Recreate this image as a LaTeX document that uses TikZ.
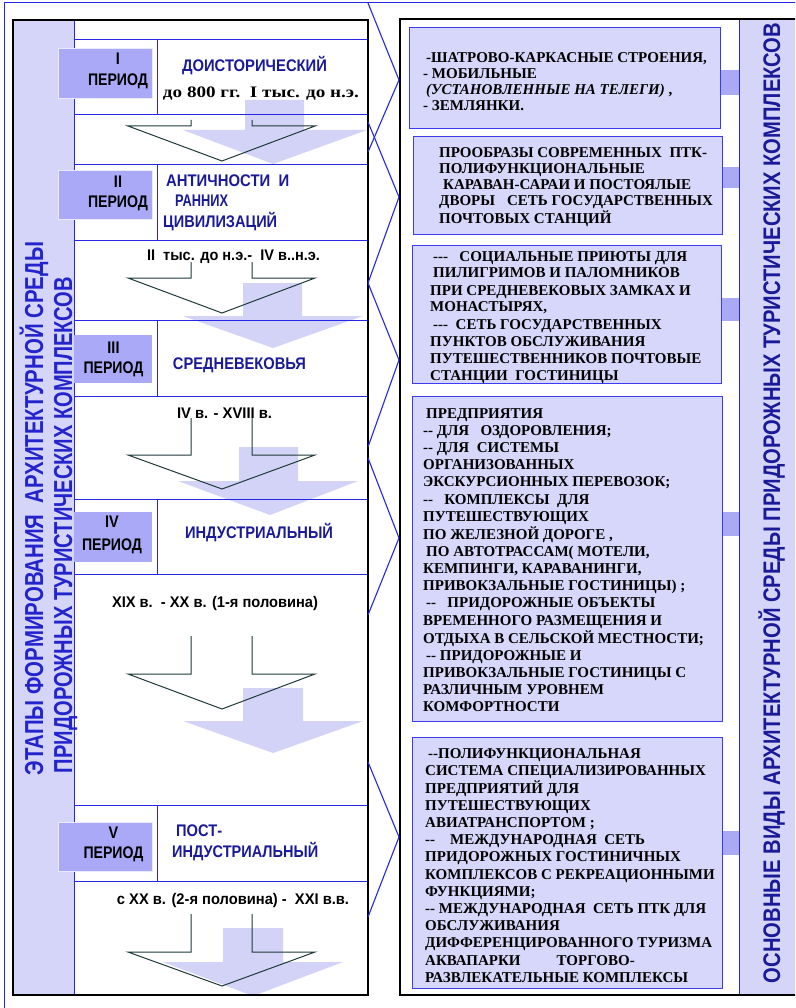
\documentclass[tikz,border=0pt]{standalone}
\usepackage{fontspec}
\setmainfont{Liberation Serif}
\setsansfont{Liberation Sans}
\usepackage{graphicx}
\newcommand{\fitw}[2]{\resizebox{#1pt}{\height}{#2}}
\newcommand{\dd}{\mbox{-}\mbox{-}}
\newcommand{\ddd}{\mbox{-}\mbox{-}\mbox{-}}
\definecolor{strip}{HTML}{D5D5FA}
\definecolor{pbox}{HTML}{A9A9F8}
\definecolor{gridblue}{HTML}{2626E8}
\definecolor{shade}{HTML}{D3D3F7}
\definecolor{outl}{HTML}{1F3A3A}
\definecolor{navy}{HTML}{1A1A99}
\definecolor{vblue}{HTML}{2424CC}
\definecolor{rbox}{HTML}{D7D7FB}
\definecolor{rborder}{HTML}{3C3CEE}
\definecolor{tabc}{HTML}{A9A9F4}
\begin{document}
\begin{tikzpicture}[x=1pt,y=-1pt,
  grid/.style={draw=gridblue,line width=1pt},
  frame/.style={draw=black,line width=2.5pt},
  zig/.style={draw=gridblue,line width=1.1pt},
  shadearrow/.style={fill=shade,draw=none},
  outarrow/.style={draw=outl,line width=1pt,line join=miter},
  perbox/.style={fill=pbox},
  lt/.style={font=\sffamily\bfseries\fontsize{16.8}{18}\selectfont,text height=12pt,text depth=0pt,inner sep=0pt},
  ttl/.style={lt,text=navy},
  dat/.style={font=\sffamily\bfseries\fontsize{15.4}{17}\selectfont,text height=11pt,text depth=0pt,inner sep=0pt},
  srf/.style={font=\rmfamily\bfseries\fontsize{16}{18}\selectfont,text height=10.6pt,text depth=0pt,inner sep=0pt},
  rbx/.style={fill=rbox,draw=rborder,line width=1pt},
  rtext/.style={inner sep=0pt,anchor=base west},
  tabbox/.style={fill=tabc}]
\useasboundingbox (0,0) rectangle (795,1008);
\clip (0,0) rectangle (795,1008);
\fill[white] (0,0) rectangle (795,1008);
% outer blue frame
\draw[grid] (4,1015) -- (4,3) -- (805,3);
% left strip
\fill[strip] (13,20) rectangle (74,995);
% shaded arrows
\path[shadearrow] (245,100) -- (304,100) -- (304,130) -- (367,130) -- (273,164) -- (183,130) -- (245,130) -- cycle;
\path[shadearrow] (243,283) -- (302,283) -- (302,316) -- (363,316) -- (273,348) -- (183,316) -- (243,316) -- cycle;
\path[shadearrow] (239,447) -- (298,447) -- (298,481) -- (358,481) -- (270,515) -- (178,481) -- (239,481) -- cycle;
\path[shadearrow] (243,688) -- (303,688) -- (303,721) -- (363,721) -- (273,753) -- (183,721) -- (243,721) -- cycle;
\path[shadearrow] (223,928) -- (283,928) -- (283,962) -- (343,962) -- (253,996) -- (163,962) -- (223,962) -- cycle;
% grid lines
\draw[grid] (74,20) -- (74,995);
\foreach \yy in {40,115,165,240,320,396,499,574,805,881}{\draw[grid] (74,\yy) -- (368,\yy);}
\draw[grid] (157,40) -- (157,115);
\draw[grid] (157,165) -- (157,240);
\draw[grid] (157,320) -- (157,396);
\draw[grid] (157,499) -- (157,574);
\draw[grid] (157,805) -- (157,881);
% outline arrows
\foreach \tp/\hd/\tip in {120/126/161,262/278/313,418/455/489,636/674/709,914/952/986}{
  \draw[outarrow] (191,\tp) -- (191,\hd) -- (128,\hd) -- (222,\tip) -- (315,\hd) -- (252,\hd) -- (252,\tp);}
% period boxes
\draw[perbox,draw=white!75!pbox,line width=0.8pt] (58,48) rectangle (152,98);
\draw[perbox,draw=white!75!pbox,line width=0.8pt] (58,170) rectangle (152,219);
\fill[perbox] (74,335) rectangle (152,383);
\fill[perbox] (74,512) rectangle (152,562);
\draw[perbox,draw=white!75!pbox,line width=0.8pt] (58,822) rectangle (152,871);
% period labels
\node[lt] (p1a) at (118,59) {\scalebox{0.86}[1]{I}};
\node[lt] (p1b) at (118,80) {\fitw{60}{ПЕРИОД}};
\node[lt] (p2a) at (118,182) {\scalebox{0.86}[1]{II}};
\node[lt] (p2b) at (118,202) {\fitw{60}{ПЕРИОД}};
\node[lt] (p3a) at (113.5,347) {\scalebox{0.86}[1]{III}};
\node[lt] (p3b) at (113.5,367) {\fitw{60}{ПЕРИОД}};
\node[lt] (p4a) at (112,521) {\scalebox{0.86}[1]{IV}};
\node[lt] (p4b) at (112,544) {\fitw{60}{ПЕРИОД}};
\node[lt] (p5a) at (113.5,832) {\scalebox{0.86}[1]{V}};
\node[lt] (p5b) at (113.5,852) {\fitw{60}{ПЕРИОД}};
% titles
\node[ttl] (t1) at (254.5,66) {\fitw{145}{ДОИСТОРИЧЕСКИЙ}};
\node[srf] (d1) at (261,92) {\fitw{196}{до 800 гг.~~I тыс. до н.э.}};
\node[ttl,anchor=west] (t2a) at (166,181) {\fitw{123}{АНТИЧНОСТИ~~И}};
\node[ttl,anchor=west] (t2b) at (175,201) {\fitw{53}{РАННИХ}};
\node[ttl,anchor=west] (t2c) at (163,222) {\fitw{114}{ЦИВИЛИЗАЦИЙ}};
\node[ttl] (t3) at (239.5,363) {\fitw{133}{СРЕДНЕВЕКОВЬЯ}};
\node[ttl] (t4) at (259,532) {\fitw{148}{ИНДУСТРИАЛЬНЫЙ}};
\node[ttl,anchor=west] (t5a) at (176,830) {\fitw{46}{ПОСТ-}};
\node[ttl,anchor=west] (t5b) at (172,851) {\fitw{146}{ИНДУСТРИАЛЬНЫЙ}};
% dates
\node[dat] (d2) at (233.5,255) {\fitw{173}{II~~тыс. до н.э.-~~IV в..н.э.}};
\node[dat] (d3) at (224.5,413) {\fitw{95}{IV в. - XVIII в.}};
\node[dat] (d4) at (215,602) {\fitw{206}{XIX в.~~- XX в. (1-я половина)}};
\node[dat] (d5) at (233,899) {\fitw{232}{с XX в. (2-я половина) -~~XXI в.в.}};
% left vertical title
\node[font=\sffamily\bfseries\fontsize{26}{28}\selectfont,text=vblue,rotate=90,anchor=base,inner sep=0pt] (v1) at (43,508.5) {\fitw{533}{ЭТАПЫ ФОРМИРОВАНИЯ~~АРХИТЕКТУРНОЙ СРЕДЫ}};
\node[font=\sffamily\bfseries\fontsize{26}{28}\selectfont,text=vblue,rotate=90,anchor=base,inner sep=0pt] (v2) at (72,525) {\fitw{496}{ПРИДОРОЖНЫХ ТУРИСТИЧЕСКИХ КОМПЛЕКСОВ}};
% left frame
\draw[frame] (13,20) rectangle (368,995);
% right side
\fill[strip] (739,20) rectangle (830,994);
\draw[grid] (739,19) -- (739,995);
\draw[frame] (400,19) rectangle (830,995);
\node[font=\sffamily\bfseries\fontsize{24}{26}\selectfont,text=navy,rotate=90,anchor=base,inner sep=0pt] (v3) at (780,503) {\fitw{960}{ОСНОВНЫЕ ВИДЫ АРХИТЕКТУРНОЙ СРЕДЫ ПРИДОРОЖНЫХ ТУРИСТИЧЕСКИХ КОМПЛЕКСОВ}};
% tabs
\fill[tabbox] (720,70) rectangle (739,95);
\fill[tabbox] (722,167) rectangle (739,188);
\fill[tabbox] (721,298) rectangle (739,321);
\fill[tabbox] (722,512) rectangle (739,536);
\fill[tabbox] (722,831) rectangle (739,855);
% right boxes
\draw[rbx] (409,28) rectangle (720,129);
\draw[rbx] (413,137) rectangle (722,235);
\draw[rbx] (412,245) rectangle (721,383);
\draw[rbx] (412,396) rectangle (722,721);
\draw[rbx] (412,737) rectangle (722,988);
% right texts
\node[rtext,font=\rmfamily\bfseries\fontsize{15}{16}\selectfont] (r1) at (423,63) {\begin{tabular}[t]{@{}l@{}}
\hspace*{3pt}-ШАТРОВО-КАРКАСНЫЕ СТРОЕНИЯ,\\
- МОБИЛЬНЫЕ\\
\hspace*{3pt}\textit{(УСТАНОВЛЕННЫЕ НА ТЕЛЕГИ)} ,\\
- ЗЕМЛЯНКИ.
\end{tabular}};
\node[rtext,font=\rmfamily\bfseries\fontsize{15}{16}\selectfont] (r2) at (439,158) {\begin{tabular}[t]{@{}l@{}}
ПРООБРАЗЫ СОВРЕМЕННЫХ~~ПТК-\\
ПОЛИФУНКЦИОНАЛЬНЫЕ\\
\hspace*{4pt}КАРАВАН-САРАИ И ПОСТОЯЛЫЕ\\
ДВОРЫ\hspace{12pt}СЕТЬ ГОСУДАРСТВЕННЫХ\\
ПОЧТОВЫХ СТАНЦИЙ
\end{tabular}};
\node[rtext,font=\rmfamily\bfseries\fontsize{15}{17}\selectfont] (r3) at (430,261) {\begin{tabular}[t]{@{}l@{}}
\hspace*{3pt}\ddd~~~СОЦИАЛЬНЫЕ ПРИЮТЫ ДЛЯ\\
\hspace*{3pt}ПИЛИГРИМОВ И ПАЛОМНИКОВ\\
ПРИ СРЕДНЕВЕКОВЫХ ЗАМКАХ И\\
МОНАСТЫРЯХ,\\
\hspace*{3pt}\ddd~~СЕТЬ ГОСУДАРСТВЕННЫХ\\
ПУНКТОВ ОБСЛУЖИВАНИЯ\\
ПУТЕШЕСТВЕННИКОВ ПОЧТОВЫЕ\\
СТАНЦИИ~~ГОСТИНИЦЫ
\end{tabular}};
\node[rtext,font=\rmfamily\bfseries\fontsize{15}{17.2}\selectfont] (r4) at (423,418) {\begin{tabular}[t]{@{}l@{}}
\hspace*{3pt}ПРЕДПРИЯТИЯ\\
\dd~ДЛЯ~~~ОЗДОРОВЛЕНИЯ;\\
\dd~ДЛЯ~~СИСТЕМЫ\\
ОРГАНИЗОВАННЫХ\\
ЭКСКУРСИОННЫХ ПЕРЕВОЗОК;\\
\dd~~~КОМПЛЕКСЫ~~ДЛЯ\\
ПУТЕШЕСТВУЮЩИХ\\
ПО ЖЕЛЕЗНОЙ ДОРОГЕ ,\\
\hspace*{3pt}ПО АВТОТРАССАМ( МОТЕЛИ,\\
КЕМПИНГИ, КАРАВАНИНГИ,\\
ПРИВОКЗАЛЬНЫЕ ГОСТИНИЦЫ) ;\\
\hspace*{3pt}\dd~~~ПРИДОРОЖНЫЕ ОБЪЕКТЫ\\
ВРЕМЕННОГО РАЗМЕЩЕНИЯ И\\
ОТДЫХА В СЕЛЬСКОЙ МЕСТНОСТИ;\\
\hspace*{3pt}\dd~ПРИДОРОЖНЫЕ И\\
ПРИВОКЗАЛЬНЫЕ ГОСТИНИЦЫ С\\
РАЗЛИЧНЫМ УРОВНЕМ\\
КОМФОРТНОСТИ
\end{tabular}};
\node[rtext,font=\rmfamily\bfseries\fontsize{15}{17.2}\selectfont] (r5) at (425,758) {\begin{tabular}[t]{@{}l@{}}
\hspace*{3pt}\dd{}ПОЛИФУНКЦИОНАЛЬНАЯ\\
СИСТЕМА СПЕЦИАЛИЗИРОВАННЫХ\\
ПРЕДПРИЯТИЙ ДЛЯ\\
ПУТЕШЕСТВУЮЩИХ\\
АВИАТРАНСПОРТОМ ;\\
\dd~~~~МЕЖДУНАРОДНАЯ~~СЕТЬ\\
ПРИДОРОЖНЫХ ГОСТИНИЧНЫХ\\
КОМПЛЕКСОВ С РЕКРЕАЦИОННЫМИ\\
ФУНКЦИЯМИ;\\
\dd~МЕЖДУНАРОДНАЯ~~СЕТЬ ПТК ДЛЯ\\
ОБСЛУЖИВАНИЯ\\
ДИФФЕРЕНЦИРОВАННОГО ТУРИЗМА\\
АКВАПАРКИ\hspace{36pt}ТОРГОВО-\\
РАЗВЛЕКАТЕЛЬНЫЕ КОМПЛЕКСЫ
\end{tabular}};
% zigzag connectors
\coordinate (za) at (368,3);
\coordinate (zb) at (399,80);
\coordinate (zc) at (368,152);
\coordinate (zd) at (368,122);
\coordinate (ze) at (399,197);
\coordinate (zf) at (368,283);
\coordinate (zg) at (399,360);
\coordinate (zh) at (368,447);
\coordinate (zi) at (368,458);
\coordinate (zj) at (399,538);
\coordinate (zk) at (368,615);
\coordinate (zl) at (368,762);
\coordinate (zm) at (399,837);
\coordinate (zn) at (368,917);
\draw[zig] (za) -- (zb) -- (zc);
\draw[zig] (zd) -- (ze) -- (zf) -- (zg) -- (zh);
\draw[zig] (zi) -- (zj) -- (zk);
\draw[zig] (zl) -- (zm) -- (zn);
\end{tikzpicture}
\end{document}
